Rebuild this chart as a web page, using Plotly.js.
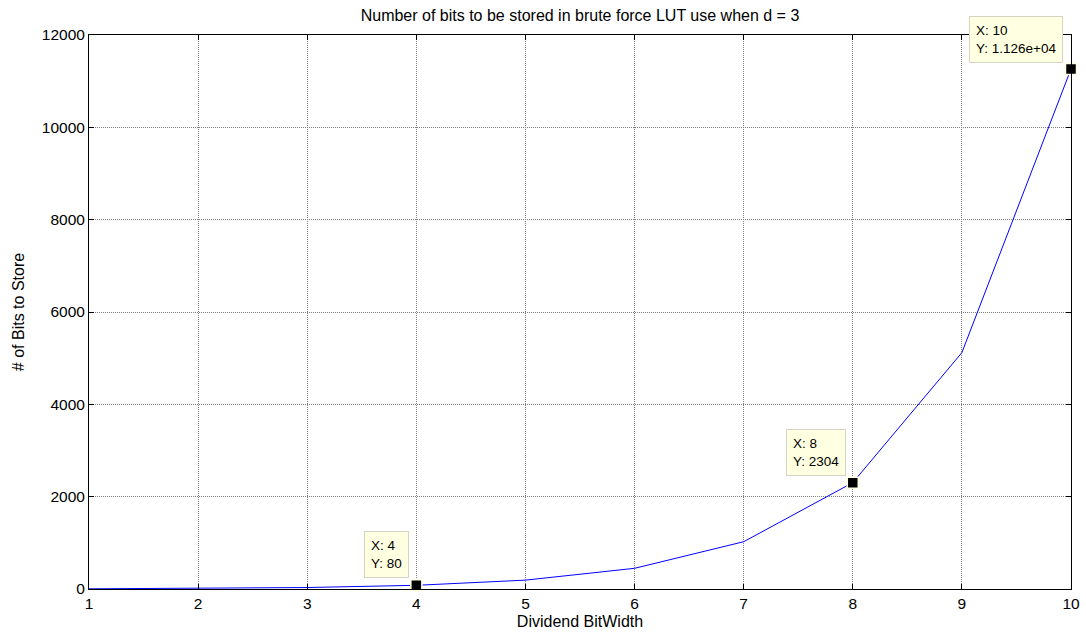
<!DOCTYPE html>
<html><head><meta charset="utf-8">
<script src="https://cdn.plot.ly/plotly-3.0.1.min.js"></script>
<style>html,body{margin:0;padding:0;background:#fff}</style>
</head><body><div id="chart" style="width:1086px;height:635px"></div>
<script>
const bitWidth = [1, 2, 3, 4, 5, 6, 7, 8, 9, 10];
const bitsToStore = [4, 12, 32, 80, 192, 448, 1024, 2304, 5120, 11264];
const tipX = [4, 8, 10];
const tipY = [80, 2304, 11264];
const tipLabels = ['X: 4<br>Y: 80', 'X: 8<br>Y: 2304', 'X: 10<br>Y: 1.126e+04'];
const tipShiftX = [-7, -7, -8];
const tipShiftY = [7, 7, 6];
const yTicks = [0, 2000, 4000, 6000, 8000, 10000, 12000];

const font = 'Liberation Sans, Arial, sans-serif';
const traces = [
  {x: bitWidth, y: bitsToStore, type: 'scatter', mode: 'lines',
   line: {color: '#0000ff', width: 1}, hoverinfo: 'skip'},
  {x: tipX, y: tipY, type: 'scatter', mode: 'markers', cliponaxis: false,
   marker: {symbol: 'square', size: 11, color: '#000', line: {color: '#ffffe0', width: 1.5}}, hoverinfo: 'skip'}
];
const annotations = tipX.map((x, i) => ({
  x: x, y: tipY[i], xref: 'x', yref: 'y', text: tipLabels[i], showarrow: false,
  xanchor: 'right', yanchor: 'bottom', xshift: tipShiftX[i], yshift: tipShiftY[i], align: 'left',
  bgcolor: '#ffffe1', bordercolor: '#d4d4c4', borderwidth: 1, borderpad: 6,
  font: {family: font, size: 13.5, color: '#000'}
}));
const axisCommon = {
  ticks: 'inside', ticklen: 5, tickcolor: '#000',
  showline: true, linecolor: '#000', linewidth: 1, mirror: 'ticks',
  showgrid: true, gridcolor: '#808080', griddash: '1px,1px', gridwidth: 1, zeroline: false,
  tickfont: {family: font, size: 15.5, color: '#000'}
};
const layout = {
  width: 1086, height: 635,
  margin: {l: 89, r: 15, t: 35, b: 46},
  paper_bgcolor: '#fff', plot_bgcolor: '#fff',
  showlegend: false,
  font: {family: font, color: '#000', size: 15.5},
  title: {text: 'Number of bits to be stored in brute force LUT use when d = 3',
          font: {family: font, size: 16, color: '#000'}, xref: 'paper', x: 0.5, xanchor: 'center', y: 0.976, yanchor: 'middle'},
  xaxis: Object.assign({}, axisCommon, {range: [1, 10], tickvals: bitWidth,
          title: {text: 'Dividend BitWidth', font: {family: font, size: 16}, standoff: 5}}),
  yaxis: Object.assign({}, axisCommon, {range: [0, 12000], tickvals: yTicks, tickformat: 'd',
          title: {text: '# of Bits to Store', font: {family: font, size: 16}, standoff: 13}}),
  annotations: annotations
};
Plotly.newPlot('chart', traces, layout, {displayModeBar: false, staticPlot: true});
</script></body></html>
